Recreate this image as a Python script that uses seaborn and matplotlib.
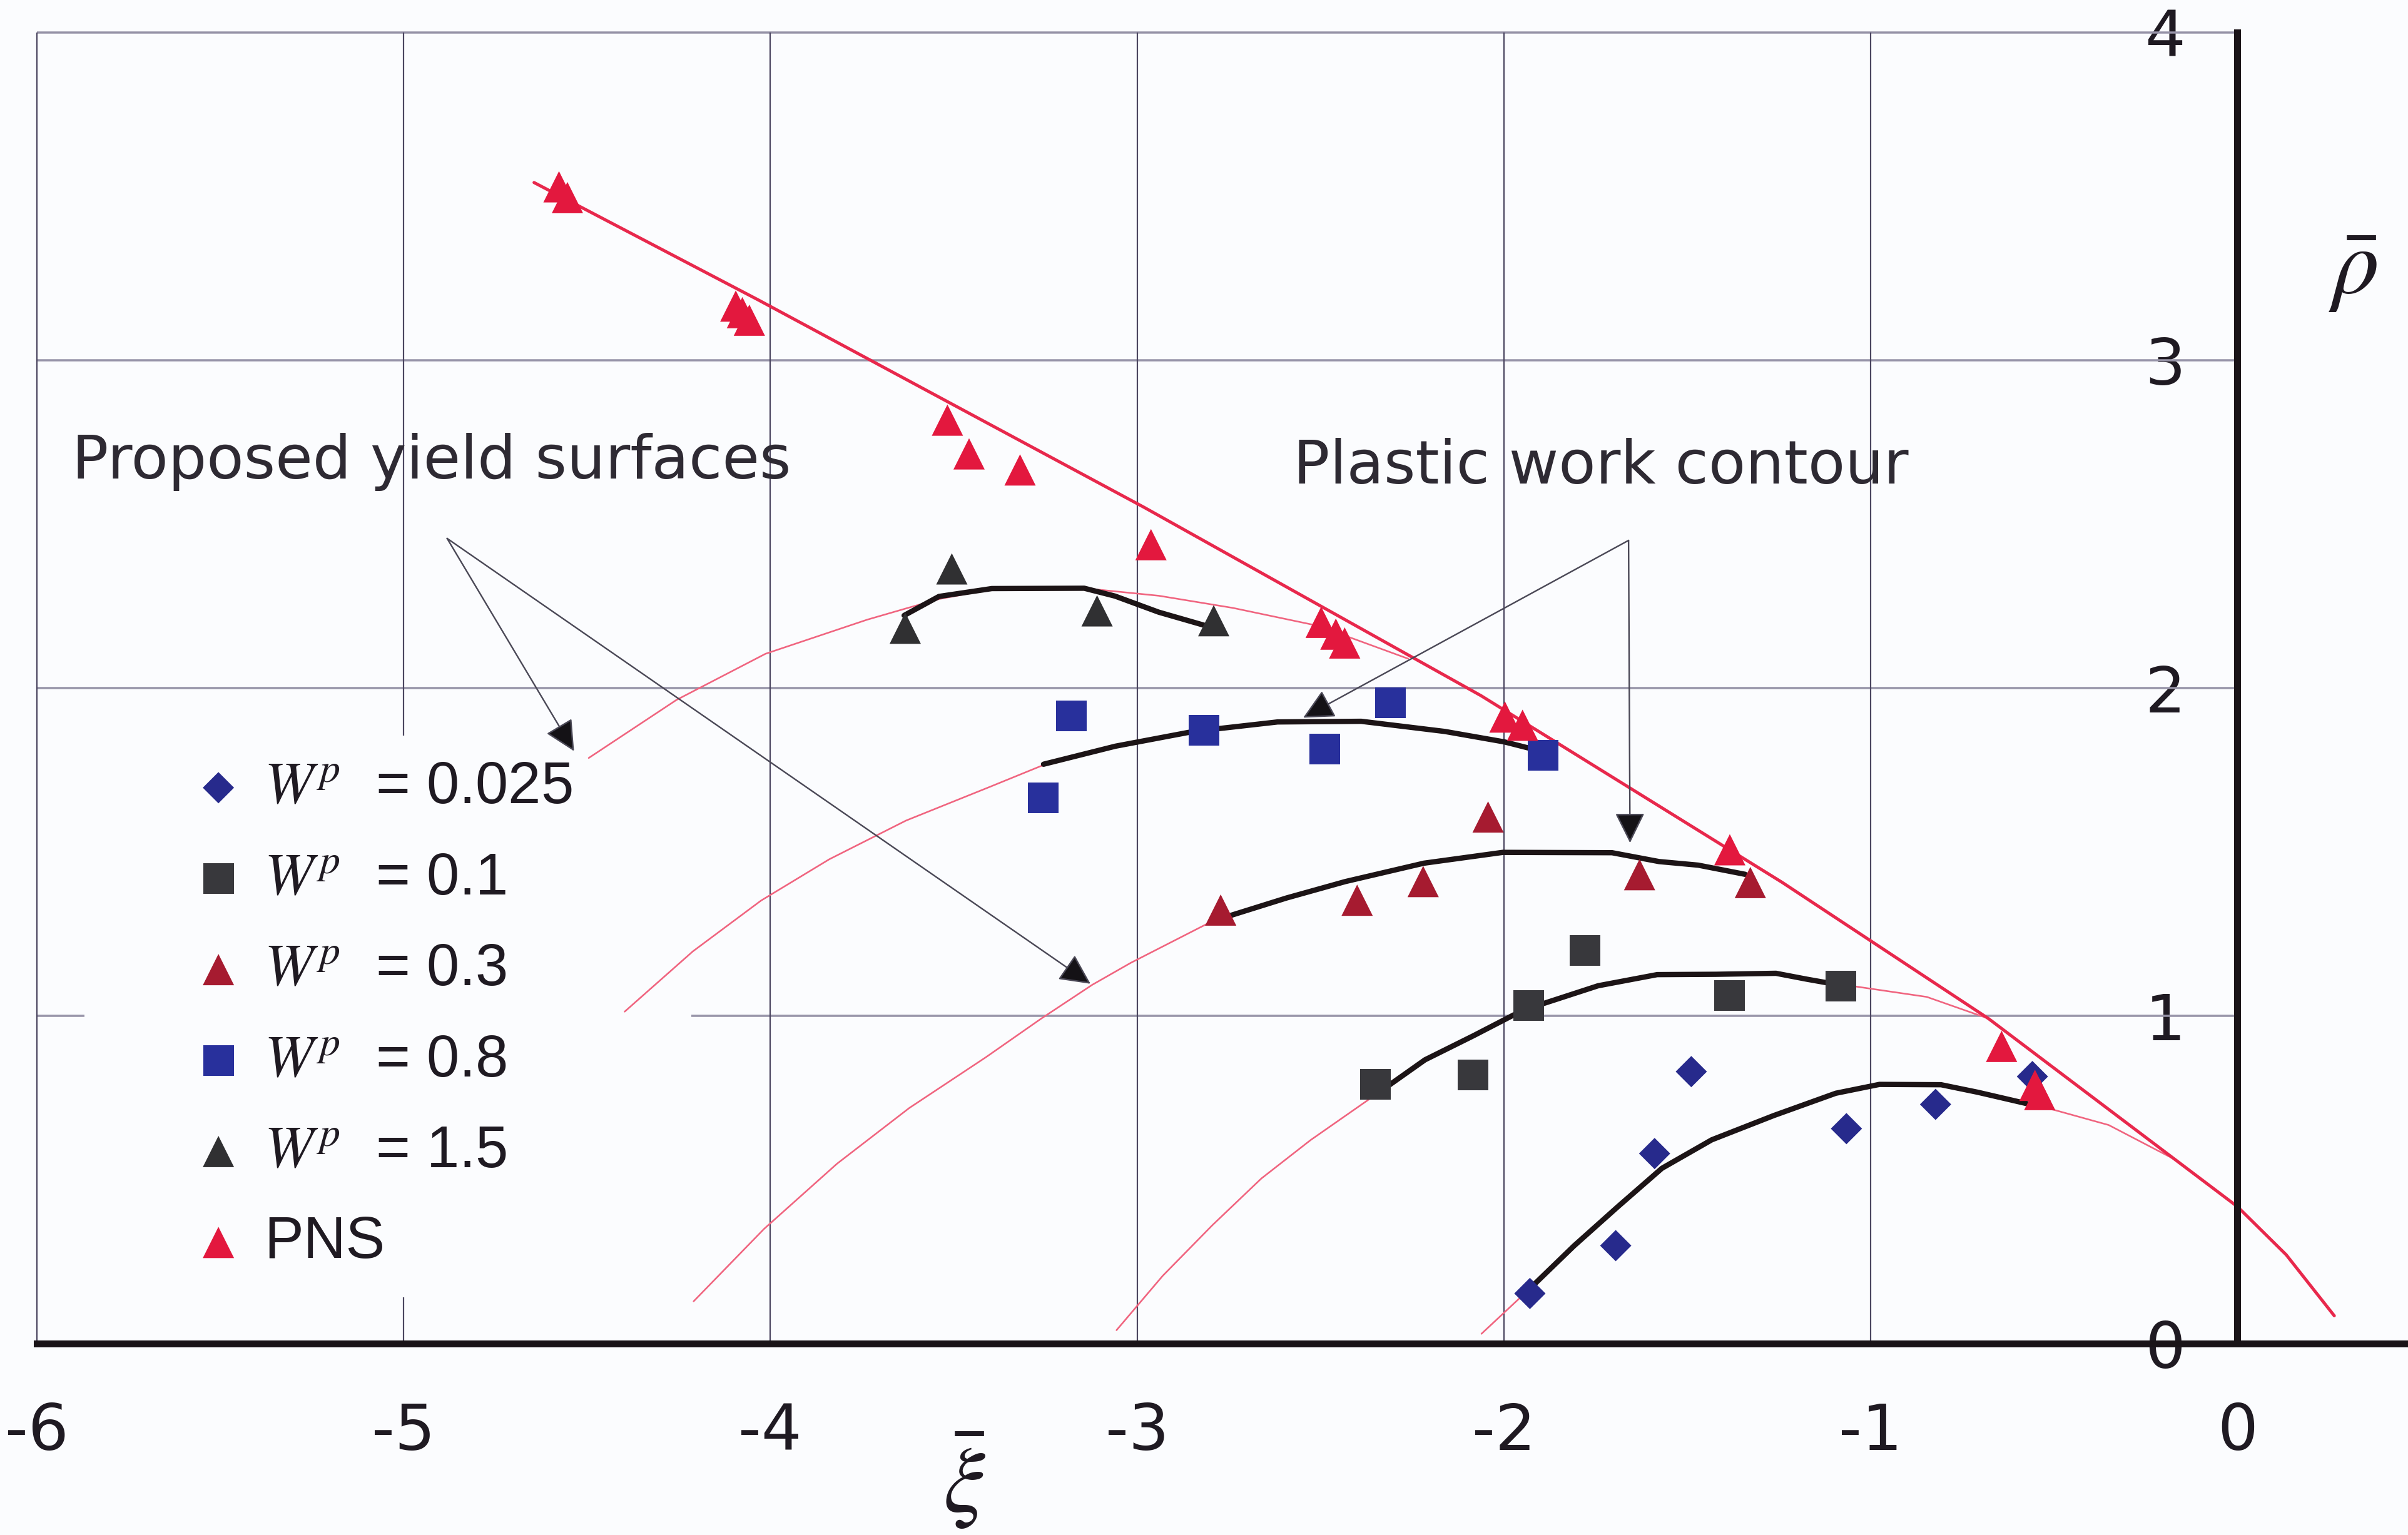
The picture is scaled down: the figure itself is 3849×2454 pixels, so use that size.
import matplotlib
matplotlib.use("Agg")
import matplotlib.pyplot as plt
from matplotlib.patches import Rectangle
import seaborn as sns

# ---------------------------------------------------------------------------
# Test points (xi_bar, rho_bar) for each plastic-work level
# ---------------------------------------------------------------------------
wp0025_xi = [-1.929, -1.695, -1.589, -1.489, -1.066, -0.823, -0.559]
wp0025_rho = [0.153, 0.299, 0.580, 0.830, 0.656, 0.730, 0.815]

wp01_xi = [-2.350, -2.084, -1.932, -1.778, -1.385, -1.081]
wp01_rho = [0.792, 0.819, 1.032, 1.199, 1.062, 1.090]

wp03_xi = [-2.772, -2.400, -2.220, -2.043, -1.630, -1.328]
wp03_rho = [1.323, 1.353, 1.410, 1.607, 1.431, 1.407]

wp08_xi = [-3.256, -3.179, -2.818, -2.488, -2.310, -1.893]
wp08_rho = [1.666, 1.915, 1.872, 1.814, 1.956, 1.795]

wp15_xi = [-3.632, -3.505, -3.109, -2.791]
wp15_rho = [2.183, 2.364, 2.236, 2.206]

pns_xi = [-4.576, -4.553, -4.094, -4.076, -4.057, -3.517, -3.458, -3.319,
          -2.962, -2.498, -2.458, -2.434, -1.997, -1.949, -1.384, -0.643,
          -0.552, -0.539]
pns_rho = [3.530, 3.497, 3.166, 3.146, 3.123, 2.818, 2.715, 2.666,
           2.438, 2.201, 2.165, 2.138, 1.912, 1.887, 1.507, 0.907,
           0.788, 0.760]

# PNS envelope
pns_line_xi = [-4.644, -4.033, -2.981, -2.062, -1.242, -0.679, 0.000, 0.133, 0.264]
pns_line_rho = [3.543, 3.185, 2.552, 1.977, 1.408, 0.992, 0.418, 0.271, 0.085]

# Proposed yield surfaces (thin curves)
surf15_xi = [-4.495, -4.256, -4.013, -3.736, -3.631, -3.540, -3.396, -3.144,
             -2.940, -2.739, -2.505, -2.420, -2.261]
surf15_rho = [1.787, 1.964, 2.105, 2.209, 2.243, 2.272, 2.302, 2.305,
              2.282, 2.245, 2.190, 2.155, 2.090]

surf08_xi = [-4.397, -4.211, -4.025, -3.839, -3.630, -3.399, -3.261, -3.059,
             -2.846, -2.617, -2.389, -2.161, -1.998, -1.917]
surf08_rho = [1.013, 1.197, 1.352, 1.478, 1.596, 1.700, 1.763, 1.823,
              1.868, 1.897, 1.899, 1.868, 1.836, 1.813]

surf03_xi = [-4.209, -4.017, -3.818, -3.621, -3.412, -3.261, -3.122, -3.017,
             -2.809, -2.592, -2.432, -2.218, -2.003, -1.705, -1.577, -1.470,
             -1.342]
surf03_rho = [0.129, 0.350, 0.549, 0.719, 0.874, 0.992, 1.095, 1.162,
              1.281, 1.360, 1.410, 1.466, 1.499, 1.498, 1.471, 1.460,
              1.432]

surf01_xi = [-3.056, -2.930, -2.795, -2.661, -2.527, -2.349, -2.215, -2.082,
             -1.949, -1.743, -1.582, -1.422, -1.258, -1.174, -1.073, -0.847,
             -0.679]
surf01_rho = [0.041, 0.207, 0.361, 0.504, 0.621, 0.760, 0.866, 0.940,
              1.017, 1.092, 1.126, 1.127, 1.130, 1.112, 1.095, 1.058,
              0.992]

surf0025_xi = [-2.061, -1.929, -1.809, -1.689, -1.569, -1.433, -1.264, -1.095,
               -0.976, -0.808, -0.708, -0.573, -0.496, -0.351, -0.176]
surf0025_rho = [0.030, 0.168, 0.298, 0.418, 0.535, 0.622, 0.696, 0.764,
                0.791, 0.790, 0.767, 0.732, 0.712, 0.667, 0.565]

# Plastic work contours (thick curves)
c15_xi = [-3.635, -3.540, -3.396, -3.144, -3.060, -2.941, -2.792]
c15_rho = [2.222, 2.280, 2.304, 2.305, 2.281, 2.232, 2.184]
c08_xi = [-3.255, -3.059, -2.846, -2.617, -2.389, -2.161, -1.998, -1.917]
c08_rho = [1.768, 1.823, 1.868, 1.897, 1.899, 1.868, 1.836, 1.813]
c03_xi = [-2.772, -2.592, -2.432, -2.218, -2.003, -1.705, -1.577, -1.470, -1.342]
c03_rho = [1.297, 1.360, 1.410, 1.466, 1.499, 1.498, 1.471, 1.460, 1.432]
c01_xi = [-2.349, -2.215, -2.082, -1.949, -1.743, -1.582, -1.422, -1.258, -1.174, -1.073]
c01_rho = [0.760, 0.866, 0.940, 1.017, 1.092, 1.126, 1.127, 1.130, 1.112, 1.092]
c0025_xi = [-1.929, -1.809, -1.689, -1.569, -1.433, -1.264, -1.095, -0.976,
            -0.808, -0.708, -0.573, -0.548]
c0025_rho = [0.168, 0.298, 0.418, 0.535, 0.622, 0.696, 0.764, 0.791,
             0.790, 0.767, 0.732, 0.727]

x_ticks = [-6, -5, -4, -3, -2, -1, 0]
y_ticks = [0, 1, 2, 3, 4]

labels = [r"$W^{p}$  = 0.025", r"$W^{p}$  = 0.1", r"$W^{p}$  = 0.3",
          r"$W^{p}$  = 0.8", r"$W^{p}$  = 1.5", "PNS"]

# ---------------------------------------------------------------------------
sns.set_style("white")
plt.rcParams["font.family"] = ["DejaVu Sans"]
plt.rcParams["mathtext.fontset"] = "stix"
plt.rcParams["axes.unicode_minus"] = False

BG = "#fbfcfe"
W, H, DPI = 3849, 2454, 72
fig = plt.figure(figsize=(W / DPI, H / DPI), dpi=DPI, facecolor=BG)
ax = fig.add_axes([0, 0, 1, 1])
ax.set_facecolor(BG)
ax.set_xlim(-6.10, 0.465)
ax.set_ylim(-0.584, 4.10)

# grid / frame
ax.hlines([1, 2, 3, 4], -6, 0, colors="#9794a8", lw=3.5, zorder=1)
ax.vlines([-6, -5, -4, -3, -2, -1], 0, 4, colors="#4b4660", lw=2.2, zorder=1)

# legend background
ax.add_patch(Rectangle((0.0351, 0.1549), 0.252, 0.366, transform=ax.transAxes,
                       facecolor=BG, edgecolor="none", zorder=1.5))

# yield surfaces
pink = "#f0647f"
for xs, ys in [(surf15_xi, surf15_rho), (surf08_xi, surf08_rho),
               (surf03_xi, surf03_rho), (surf01_xi, surf01_rho),
               (surf0025_xi, surf0025_rho)]:
    sns.lineplot(x=xs, y=ys, sort=False, estimator=None, color=pink,
                 linewidth=2.6, ax=ax, zorder=2, legend=False)

# PNS envelope
sns.lineplot(x=pns_line_xi, y=pns_line_rho, sort=False, estimator=None,
             color="#e8284c", linewidth=5, ax=ax, zorder=2.2, legend=False)

# plastic work contours
for xs, ys in [(c15_xi, c15_rho), (c08_xi, c08_rho), (c03_xi, c03_rho),
               (c01_xi, c01_rho), (c0025_xi, c0025_rho)]:
    sns.lineplot(x=xs, y=ys, sort=False, estimator=None, color="#1c1416",
                 linewidth=8.5, ax=ax, zorder=3, legend=False)

# test points
series = [
    (wp0025_xi, wp0025_rho, "D", 1250, "#272a8c"),
    (wp01_xi, wp01_rho, "s", 2400, "#38383c"),
    (wp03_xi, wp03_rho, "^", 2500, "#a61b30"),
    (wp08_xi, wp08_rho, "s", 2400, "#28309c"),
    (wp15_xi, wp15_rho, "^", 2500, "#303032"),
    (pns_xi, pns_rho, "^", 2500, "#e3183e"),
]
for (xs, ys, mk, size, col), lab in zip(series, labels):
    sns.scatterplot(x=xs, y=ys, marker=mk, s=size, color=col, linewidth=0,
                    edgecolor="none", label=lab, ax=ax, zorder=4)

# annotations
arrow_kw = dict(arrowstyle="-|>,head_length=0.85,head_width=0.42",
                fc="#141216", ec="#4a4856", lw=2.4, mutation_scale=50,
                shrinkA=0, shrinkB=0)
for tip in [(-4.535, 1.808), (-3.127, 1.098)]:
    ax.annotate("", xy=tip, xytext=(-4.881, 2.457), arrowprops=arrow_kw, zorder=5)
for tip in [(-2.547, 1.910), (-1.656, 1.528)]:
    ax.annotate("", xy=tip, xytext=(-1.660, 2.451), arrowprops=arrow_kw, zorder=5)

ax.text(-5.904, 2.639, "Proposed yield surfaces", fontsize=97, color="#2e2a33",
        ha="left", va="baseline", zorder=6)
ax.text(-2.575, 2.625, "Plastic work contour", fontsize=97, color="#2e2a33",
        ha="left", va="baseline", zorder=6)

# axes through the origin
for side in ["top", "right"]:
    ax.spines[side].set_visible(False)
ax.spines["bottom"].set_position(("data", 0))
ax.spines["bottom"].set_bounds(-6, 0.465)
ax.spines["left"].set_position(("data", 0))
ax.spines["left"].set_bounds(0, 4)
for side in ["bottom", "left"]:
    ax.spines[side].set_linewidth(11)
    ax.spines[side].set_color("#1a1418")
    ax.spines[side].set_zorder(3.5)

ax.set_xticks(x_ticks)
ax.set_xticklabels([str(t) for t in x_ticks])
ax.set_yticks(y_ticks)
ax.set_yticklabels([str(t) for t in y_ticks])
ax.tick_params(axis="x", direction="out", length=35, width=4, pad=58,
               labelsize=102, colors="#1f1a22")
ax.tick_params(axis="y", direction="out", length=25, width=6, pad=58,
               labelsize=102, colors="#1f1a22")
ax.set_xlabel("")
ax.set_ylabel("")

ax.text(-3.471, -0.42, r"$\bar{\xi}$", fontsize=150, color="#1f1a22",
        ha="center", va="center")
ax.text(0.314, 3.28, r"$\bar{\rho}$", fontsize=150, color="#1f1a22",
        ha="center", va="center")

leg = ax.legend(loc="upper left", bbox_to_anchor=(0.0785, 0.5049), frameon=False,
                prop={"family": "Liberation Sans", "size": 94},
                handlelength=1.0, handletextpad=0.28, labelspacing=0.60,
                borderpad=0, borderaxespad=0, scatterpoints=1)
leg.set_zorder(6)
for t in leg.get_texts():
    t.set_color("#1f1a22")

fig.savefig("out.png", dpi=DPI, facecolor=BG)
